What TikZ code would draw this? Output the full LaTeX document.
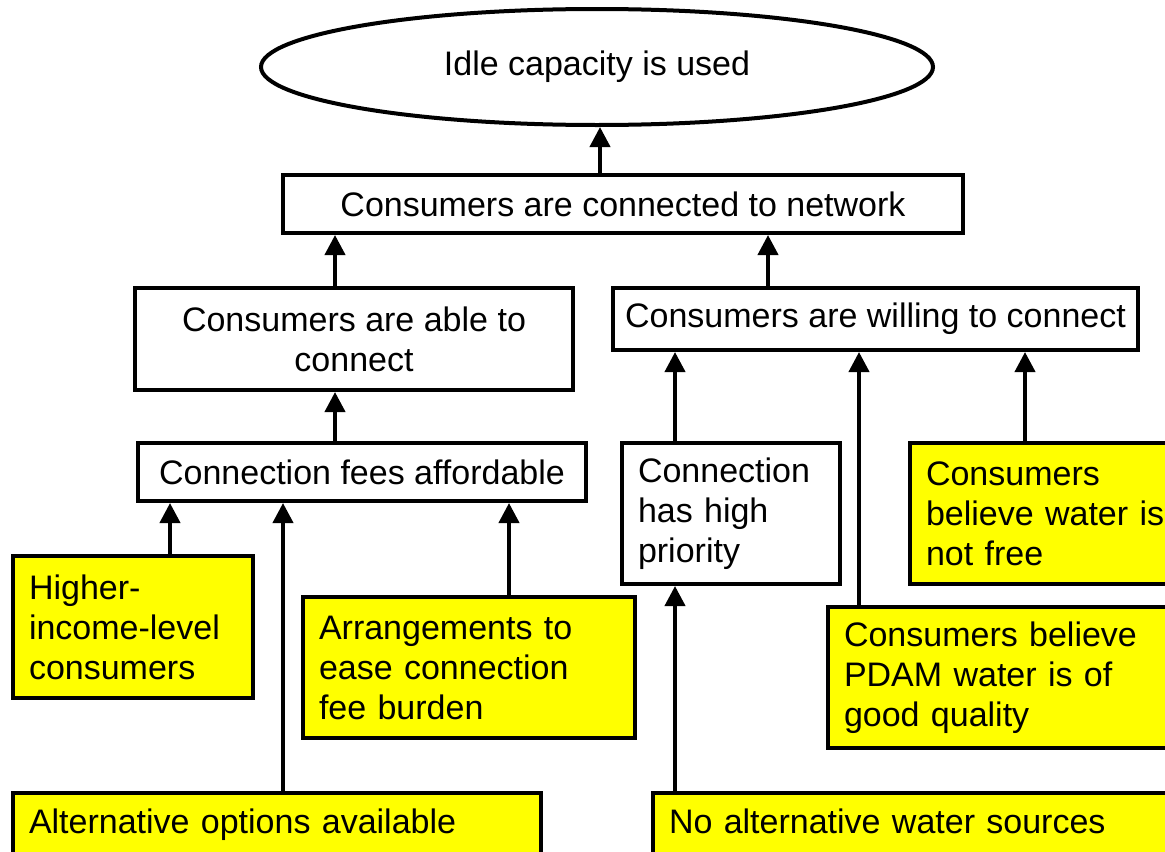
\documentclass[tikz,border=0pt]{standalone}
\usepackage{fontspec}
\setmainfont{Liberation Sans}
\usetikzlibrary{arrows.meta,shapes.geometric}
\definecolor{boxyellow}{RGB}{255,255,0}
\begin{document}
\begin{tikzpicture}[x=0.5pt,y=-0.5pt,
  every node/.style={font=\fontsize{17pt}{20pt}\selectfont},
  bx/.style={draw, line width=2pt, inner sep=0pt, align=center},
  lbox/.style={draw, line width=2pt, fill=boxyellow, inner xsep=8pt, inner ysep=0pt, align=left},
  wbox/.style={lbox, fill=white},
  oneline/.style={text height=12.4pt, text depth=3.6pt},
  arr/.style={line width=2pt, -{Triangle[width=10pt,length=10pt]}}]
\useasboundingbox (0,0) rectangle (1165,851);
\clip (0,0) rectangle (1165,851);
\fill[white] (0,0) rectangle (1165,851);

\node[draw, ellipse, line width=2pt, minimum width=336pt, minimum height=58pt, inner sep=0pt] (idle) at (597,67) {Idle capacity is used};
\node[bx, minimum width=340pt, minimum height=29pt] (net) at (623,204) {Consumers are connected to network};
\node[bx, minimum width=219pt, minimum height=51pt] (able) at (354,339) {Consumers are able to\\connect};
\node[bx, minimum width=262.5pt, minimum height=31pt] (will) at (875.5,319) {Consumers are willing to connect};
\node[bx, minimum width=224pt, minimum height=29pt] (fees) at (362,472) {Connection fees affordable};

\node[wbox, text width=93pt, minimum height=70.5pt] (prio) at (731,513.5) {Connection\\has high\\priority};
\node[lbox, text width=140pt, minimum height=70.5pt] (free) at (1066,513.5) {Consumers\\believe water is\\not free};
\node[lbox, text width=104pt, minimum height=71pt] (higher) at (133,627) {Higher-\\income-level\\consumers};
\node[lbox, text width=150pt, minimum height=70.5pt] (arrg) at (469,667.5) {Arrangements to\\ease connection\\fee burden};
\node[lbox, text width=160pt, minimum height=70.5pt] (pdam) at (1004,677.5) {Consumers believe\\PDAM water is of\\good quality};
\node[lbox, oneline, text width=248pt, minimum height=32pt] (alt) at (277,825) {Alternative options available};
\node[lbox, oneline, text width=247.5pt, minimum height=32pt] (noalt) at (916.5,825) {No alternative water sources};

\draw[arr] (600,0 |- net.north) -- (600,0 |- idle.south);
\draw[arr] (335,0 |- able.north) -- (335,0 |- net.south);
\draw[arr] (768,0 |- will.north) -- (768,0 |- net.south);
\draw[arr] (335,0 |- fees.north) -- (335,0 |- able.south);
\draw[arr] (170,0 |- higher.north) -- (170,0 |- fees.south);
\draw[arr] (283,0 |- alt.north) -- (283,0 |- fees.south);
\draw[arr] (509,0 |- arrg.north) -- (509,0 |- fees.south);
\draw[arr] (675,0 |- noalt.north) -- (675,0 |- prio.south);
\draw[arr] (675,0 |- prio.north) -- (675,0 |- will.south);
\draw[arr] (859,0 |- pdam.north) -- (859,0 |- will.south);
\draw[arr] (1025,0 |- free.north) -- (1025,0 |- will.south);
\end{tikzpicture}
\end{document}
